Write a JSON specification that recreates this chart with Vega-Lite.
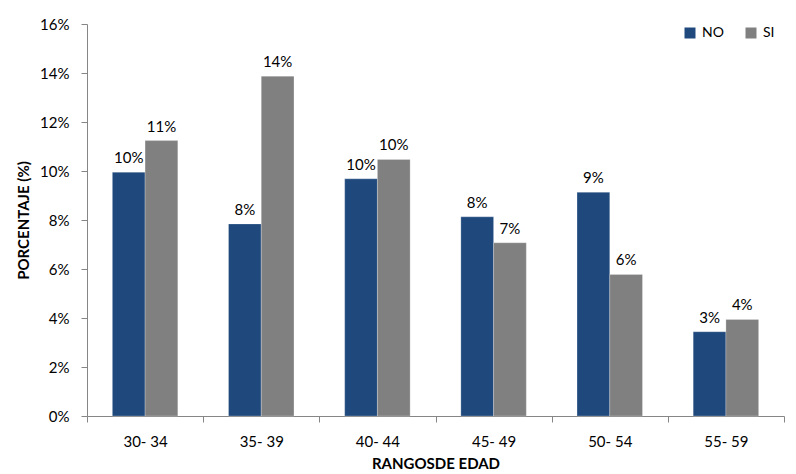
{
  "$schema": "https://vega.github.io/schema/vega-lite/v6.json",
  "width": 697,
  "height": 392,
  "autosize": {"type": "none"},
  "padding": {"left": 87, "top": 24, "right": 12, "bottom": 58},
  "background": "white",
  "config": {
    "font": "Lato",
    "view": {"stroke": null},
    "axis": {
      "domainColor": "#868686",
      "tickColor": "#868686",
      "labelColor": "#000000",
      "titleColor": "#000000",
      "labelFont": "Lato",
      "titleFont": "Lato",
      "labelFontSize": 15,
      "titleFontSize": 15,
      "titleFontWeight": "bold",
      "grid": false,
      "tickSize": 6
    }
  },
  "data": {
    "values": [
      {"rango": "30- 34", "grupo": "NO", "pct": 0.0995},
      {"rango": "30- 34", "grupo": "SI", "pct": 0.1124},
      {"rango": "35- 39", "grupo": "NO", "pct": 0.0784},
      {"rango": "35- 39", "grupo": "SI", "pct": 0.1387},
      {"rango": "40- 44", "grupo": "NO", "pct": 0.0968},
      {"rango": "40- 44", "grupo": "SI", "pct": 0.1047},
      {"rango": "45- 49", "grupo": "NO", "pct": 0.0813},
      {"rango": "45- 49", "grupo": "SI", "pct": 0.0707},
      {"rango": "50- 54", "grupo": "NO", "pct": 0.0913},
      {"rango": "50- 54", "grupo": "SI", "pct": 0.0578},
      {"rango": "55- 59", "grupo": "NO", "pct": 0.0344},
      {"rango": "55- 59", "grupo": "SI", "pct": 0.0394}
    ]
  },
  "encoding": {
    "x": {
      "field": "rango",
      "type": "nominal",
      "sort": null,
      "scale": {"paddingInner": 0, "paddingOuter": 0},
      "axis": {
        "title": "RANGOSDE EDAD",
        "labelAngle": 0,
        "tickBand": "extent",
        "labelPadding": 12,
        "titlePadding": 7
      }
    },
    "xOffset": {
      "field": "grupo",
      "type": "nominal",
      "sort": ["NO", "SI"],
      "scale": {"paddingInner": 0, "paddingOuter": 0.775}
    },
    "y": {
      "field": "pct",
      "type": "quantitative",
      "scale": {"domain": [0, 0.16], "nice": false},
      "axis": {
        "title": "PORCENTAJE (%)",
        "format": ".0%",
        "values": [0, 0.02, 0.04, 0.06, 0.08, 0.1, 0.12, 0.14, 0.16],
        "labelPadding": 12,
        "titleX": -64,
        "titleBaseline": "middle"
      }
    }
  },
  "layer": [
    {
      "mark": {"type": "bar", "stroke": "#ffffff", "strokeWidth": 0.4, "strokeOpacity": 0.6},
      "encoding": {
        "color": {
          "field": "grupo",
          "type": "nominal",
          "sort": ["NO", "SI"],
          "scale": {"domain": ["NO", "SI"], "range": ["#1F497D", "#808080"]},
          "legend": {
            "title": null,
            "orient": "none",
            "direction": "horizontal",
            "legendX": 596,
            "legendY": 2,
            "symbolType": "square",
            "symbolSize": 121,
            "symbolStrokeWidth": 0,
            "labelFont": "Lato",
            "labelFontSize": 14,
            "labelColor": "#000000",
            "labelOffset": 5,
            "columnPadding": 20
          }
        }
      }
    },
    {
      "mark": {"type": "text", "baseline": "bottom", "dy": -6, "fontSize": 15, "font": "Lato", "color": "#000000"},
      "encoding": {
        "text": {"field": "pct", "type": "quantitative", "format": ".0%"}
      }
    }
  ]
}
